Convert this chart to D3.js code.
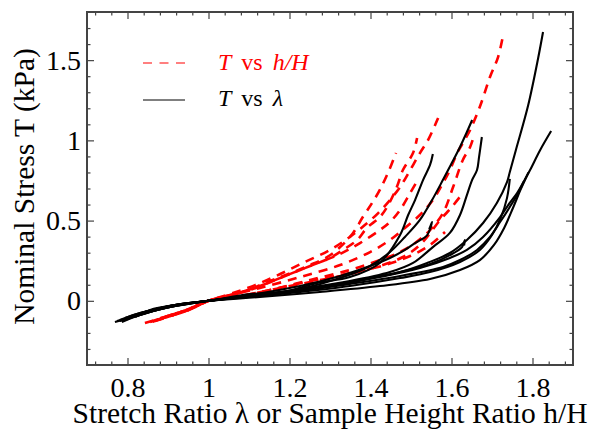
<!DOCTYPE html>
<html><head><meta charset="utf-8">
<script src="https://cdn.jsdelivr.net/npm/d3@7"></script>
<style>
html,body{margin:0;padding:0;background:#fff;}
svg{display:block;font-family:"Liberation Serif","Times New Roman",serif;}
</style></head>
<body><svg id="chart" width="601" height="441"></svg>
<script>
// ---- data: [stretch ratio, nominal stress kPa] ----
const blackCurves = [
  [[0.781,-0.120],[0.831,-0.076],[0.905,-0.032],[1.0,0.0],[1.102,0.030],[1.226,0.067],[1.349,0.117],[1.473,0.179],[1.540,0.236],[1.596,0.298],[1.638,0.379],[1.678,0.485],[1.712,0.610],[1.737,0.740],[1.744,0.803],[1.759,0.940],[1.789,1.215],[1.814,1.513],[1.826,1.675]],
  [[0.774,-0.126],[0.819,-0.095],[0.893,-0.045],[1.0,0.0],[1.102,0.030],[1.226,0.061],[1.349,0.105],[1.473,0.155],[1.579,0.211],[1.621,0.254],[1.663,0.317],[1.695,0.398],[1.720,0.491],[1.744,0.585],[1.762,0.659],[1.781,0.754],[1.794,0.815],[1.819,0.940],[1.846,1.058]],
  [[0.794,-0.120],[0.831,-0.082],[0.905,-0.032],[1.0,0.0],[1.102,0.030],[1.226,0.074],[1.325,0.142],[1.399,0.217],[1.448,0.304],[1.485,0.398],[1.522,0.504],[1.552,0.628],[1.579,0.754],[1.601,0.860],[1.621,0.959],[1.638,1.052],[1.651,1.127]],
  [[0.786,-0.132],[0.831,-0.089],[0.905,-0.039],[1.0,0.0],[1.102,0.030],[1.226,0.074],[1.349,0.123],[1.448,0.179],[1.505,0.236],[1.554,0.335],[1.596,0.423],[1.621,0.535],[1.638,0.659],[1.651,0.754],[1.663,0.815],[1.668,0.896],[1.675,1.021]],
  [[0.801,-0.107],[0.843,-0.070],[0.905,-0.032],[1.0,0.0],[1.102,0.042],[1.184,0.055],[1.268,0.111],[1.349,0.148],[1.423,0.236],[1.473,0.410],[1.493,0.535],[1.510,0.628],[1.530,0.754],[1.547,0.847],[1.554,0.915]],
  [[0.794,-0.107],[0.831,-0.076],[0.905,-0.032],[1.0,0.0],[1.102,0.036],[1.226,0.092],[1.325,0.155],[1.399,0.217],[1.448,0.267],[1.485,0.317],[1.510,0.360],[1.540,0.410],[1.552,0.491],[1.545,0.446]],
  [[0.806,-0.107],[0.843,-0.070],[0.917,-0.026],[1.0,0.0],[1.177,0.049],[1.300,0.092],[1.423,0.148],[1.522,0.204],[1.596,0.267],[1.638,0.317],[1.678,0.398],[1.720,0.522],[1.740,0.597],[1.762,0.672],[1.779,0.747]],
  [[0.769,-0.132],[0.831,-0.089],[0.893,-0.045],[1.0,0.0],[1.102,0.030],[1.226,0.067],[1.374,0.130],[1.473,0.179],[1.547,0.229],[1.596,0.285],[1.626,0.335],[1.633,0.379],[1.631,0.345]],
  [[0.819,-0.101],[0.856,-0.057],[0.917,-0.026],[1.0,0.0],[1.102,0.024],[1.226,0.055],[1.349,0.092],[1.473,0.142],[1.547,0.179],[1.621,0.242],[1.670,0.317],[1.700,0.410],[1.722,0.520],[1.737,0.640],[1.744,0.760]],
  [[0.781,-0.126],[0.843,-0.076],[0.917,-0.032],[1.0,0.0],[1.127,0.024],[1.275,0.055],[1.423,0.092],[1.547,0.136],[1.621,0.192],[1.670,0.254],[1.705,0.348],[1.730,0.454],[1.752,0.580],[1.770,0.690],[1.790,0.800]]
];
const redCurves = [
  [[0.856,-0.132],[0.893,-0.100],[0.942,-0.060],[1.0,0.0],[1.053,0.036],[1.127,0.080],[1.226,0.148],[1.325,0.223],[1.399,0.304],[1.448,0.379],[1.485,0.454],[1.522,0.535],[1.554,0.628],[1.579,0.734],[1.596,0.815],[1.614,0.921],[1.628,0.983],[1.646,1.065],[1.670,1.209],[1.695,1.395],[1.715,1.519],[1.727,1.651]],
  [[0.868,-0.126],[0.900,-0.100],[0.950,-0.055],[1.0,0.0],[1.078,0.030],[1.152,0.067],[1.251,0.130],[1.349,0.192],[1.423,0.254],[1.473,0.304],[1.510,0.360],[1.547,0.441],[1.579,0.547],[1.604,0.709],[1.628,0.878],[1.646,0.959],[1.656,1.033]],
  [[0.873,-0.120],[0.905,-0.095],[0.954,-0.055],[1.0,0.0],[1.053,0.042],[1.115,0.098],[1.177,0.167],[1.238,0.242],[1.300,0.317],[1.349,0.398],[1.386,0.472],[1.419,0.547],[1.448,0.628],[1.473,0.709],[1.498,0.815],[1.522,0.921],[1.542,1.002],[1.567,1.139]],
  [[0.862,-0.130],[0.905,-0.092],[0.945,-0.062],[1.0,0.0],[1.065,0.042],[1.127,0.092],[1.189,0.155],[1.251,0.217],[1.300,0.267],[1.332,0.317],[1.367,0.379],[1.391,0.454],[1.423,0.522],[1.441,0.585],[1.465,0.709],[1.480,0.815],[1.505,0.921],[1.515,1.015]],
  [[0.843,-0.138],[0.880,-0.110],[0.917,-0.080],[0.954,-0.050],[1.0,0.0],[1.041,0.024],[1.090,0.061],[1.152,0.123],[1.209,0.179],[1.251,0.223],[1.293,0.273],[1.325,0.335],[1.357,0.423],[1.381,0.522],[1.404,0.610],[1.423,0.691],[1.443,0.797],[1.463,0.921]],
  [[0.893,-0.105],[0.925,-0.080],[0.960,-0.048],[1.0,0.0],[1.078,0.030],[1.152,0.067],[1.251,0.117],[1.349,0.167],[1.423,0.217],[1.480,0.273],[1.522,0.348],[1.572,0.504],[1.601,0.585],[1.628,0.672]],
  [[0.880,-0.110],[0.935,-0.068],[1.0,0.0],[1.102,0.067],[1.177,0.142],[1.251,0.217],[1.325,0.292],[1.374,0.360],[1.423,0.441],[1.448,0.491],[1.473,0.566],[1.498,0.672],[1.517,0.754]],
  [[0.905,-0.090],[0.945,-0.058],[1.0,0.0],[1.078,0.030],[1.152,0.067],[1.251,0.123],[1.349,0.173],[1.436,0.223],[1.498,0.279],[1.547,0.348],[1.584,0.429]]
];
const xTickValues = [0.8, 1, 1.2, 1.4, 1.6, 1.8];
const yTickValues = [0, 0.5, 1, 1.5];
const xTitle = "Stretch Ratio \u03bb or Sample Height Ratio h/H";
const yTitle = "Nominal Stress T (kPa)";

// ---- layout ----
const svg = d3.select("#chart");
const L = 87, R = 573, T = 12, B = 365;
const FONT = "'Liberation Serif', 'Times New Roman', serif";
const x = d3.scaleLinear().domain([0.7, 1.9]).range([L, R]);
const y = d3.scaleLinear().domain([-0.4, 1.8]).range([B, T]);
const xMinor = d3.range(0.72, 1.9, 0.04).filter(v => !xTickValues.some(t => Math.abs(t - v) < 1e-6));
const yMinor = d3.range(-0.3, 1.8, 0.1).filter(v => !yTickValues.some(t => Math.abs(t - v) < 1e-6));
const axisColor = "#444";

svg.append("defs").append("clipPath").attr("id","clip")
  .append("rect").attr("x",L).attr("y",T).attr("width",R-L).attr("height",B-T);

const line = d3.line().x(d => x(d[0])).y(d => y(d[1])).curve(d3.curveCatmullRom.alpha(0.5));
const plot = svg.append("g").attr("clip-path","url(#clip)");
plot.selectAll("path.red").data(redCurves).join("path").attr("class","red")
  .attr("d", line).attr("fill","none").attr("stroke","#ff0000")
  .attr("stroke-width",2.6).attr("stroke-dasharray","9,7");
plot.selectAll("path.blk").data(blackCurves).join("path").attr("class","blk")
  .attr("d", line).attr("fill","none").attr("stroke","#000")
  .attr("stroke-width",2.1);

// axes (ticks inward on all four sides)
function styleAxis(g){ g.attr("font-family",null); g.select(".domain").remove(); g.selectAll("line").attr("stroke",axisColor).attr("stroke-width",1.2); }
function styleText(g){ g.selectAll("text").style("font-size","28px").style("font-family",FONT).attr("fill","#000"); }
const fmt = d => String(d);
svg.append("g").attr("transform",`translate(0,${B})`)
  .call(d3.axisBottom(x).tickValues(xTickValues).tickSize(-7).tickPadding(12).tickFormat(fmt))
  .call(styleAxis).call(styleText);
svg.append("g").attr("transform",`translate(0,${B})`)
  .call(d3.axisBottom(x).tickValues(xMinor).tickSize(-3.5).tickFormat(""))
  .call(styleAxis);
svg.append("g").attr("transform",`translate(0,${T})`)
  .call(d3.axisTop(x).tickValues(xTickValues).tickSize(-7).tickFormat(""))
  .call(styleAxis);
svg.append("g").attr("transform",`translate(0,${T})`)
  .call(d3.axisTop(x).tickValues(xMinor).tickSize(-3.5).tickFormat(""))
  .call(styleAxis);
svg.append("g").attr("transform",`translate(${L},0)`)
  .call(d3.axisLeft(y).tickValues(yTickValues).tickSize(-7).tickPadding(6).tickFormat(fmt))
  .call(styleAxis).call(styleText);
svg.append("g").attr("transform",`translate(${L},0)`)
  .call(d3.axisLeft(y).tickValues(yMinor).tickSize(-3.5).tickFormat(""))
  .call(styleAxis);
svg.append("g").attr("transform",`translate(${R},0)`)
  .call(d3.axisRight(y).tickValues(yTickValues).tickSize(-7).tickFormat(""))
  .call(styleAxis);
svg.append("g").attr("transform",`translate(${R},0)`)
  .call(d3.axisRight(y).tickValues(yMinor).tickSize(-3.5).tickFormat(""))
  .call(styleAxis);

// frame
svg.append("rect").attr("x",L).attr("y",T).attr("width",R-L).attr("height",B-T)
  .attr("fill","none").attr("stroke",axisColor).attr("stroke-width",2);

// titles
svg.append("text").attr("x",330).attr("y",423).attr("text-anchor","middle")
  .style("font-size","29.5px").style("font-family",FONT).attr("fill","#000").text(xTitle);
svg.append("text").attr("transform",`translate(34,${(T+B)/2 - 2}) rotate(-90)`).attr("text-anchor","middle")
  .style("font-size","29.5px").style("font-family",FONT).attr("fill","#000").text(yTitle);

// legend
const lg = svg.append("g");
lg.append("line").attr("x1",143).attr("x2",185).attr("y1",63).attr("y2",63)
  .attr("stroke","#ff0000").attr("stroke-width",1.2).attr("stroke-dasharray","9,7.5");
lg.append("line").attr("x1",143).attr("x2",185).attr("y1",100).attr("y2",100)
  .attr("stroke","#000").attr("stroke-width",1);
const t1 = lg.append("text").attr("x",218).attr("y",70).style("font-size","24px").style("font-family",FONT)
  .style("word-spacing","4px").attr("fill","#ff0000");
t1.append("tspan").attr("font-style","italic").text("T");
t1.append("tspan").text(" vs ");
t1.append("tspan").attr("font-style","italic").text("h/H");
const t2 = lg.append("text").attr("x",218).attr("y",106).style("font-size","24px").style("font-family",FONT)
  .style("word-spacing","4px").attr("fill","#000");
t2.append("tspan").attr("font-style","italic").text("T");
t2.append("tspan").text(" vs ");
t2.append("tspan").attr("font-style","italic").text("\u03bb");
</script></body></html>
